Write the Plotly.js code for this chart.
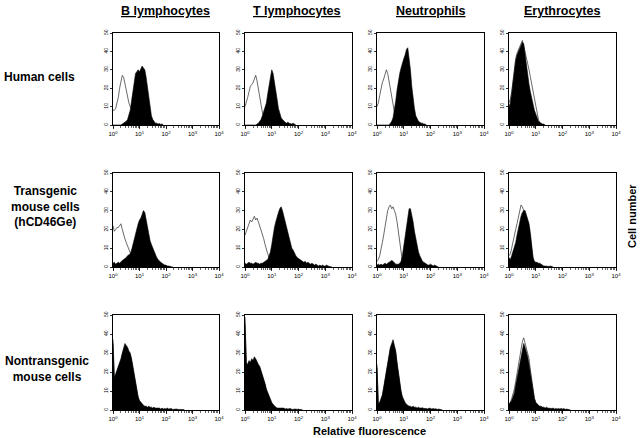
<!DOCTYPE html>
<html>
<head>
<meta charset="utf-8">
<script src="https://cdn.plot.ly/plotly-3.0.1.min.js"></script>
<style>html,body{margin:0;padding:0;background:#fff;}#chart{width:640px;height:438px;}</style>
</head>
<body>
<div id="chart"></div>
<script>
// Channel positions (log10 of relative fluorescence), 0.05-decade bins
const logChannels = [0,0.05,0.1,0.15,0.2,0.25,0.3,0.35,0.4,0.45,0.5,0.55,0.6,0.65,0.7,0.75,0.8,0.85,0.9,0.95,
  1,1.05,1.1,1.15,1.2,1.25,1.3,1.35,1.4,1.45,1.5,1.55,1.6,1.65,1.7,1.75,1.8,1.85,1.9,1.95,
  2,2.05,2.1,2.15,2.2,2.25,2.3,2.35,2.4,2.45,2.5,2.55,2.6,2.65,2.7,2.75,2.8,2.85,2.9,2.95,
  3,3.05,3.1,3.15,3.2,3.25,3.3,3.35,3.4,3.45,3.5,3.55,3.6,3.65,3.7,3.75,3.8,3.85,3.9,3.95,4];

const columnTitles = ['B lymphocytes','T lymphocytes','Neutrophils','Erythrocytes'];
const rowTitles = ['Human cells','Transgenic<br>mouse cells<br>(hCD46Ge)','Nontransgenic<br>mouse cells'];
const xTickVals = [1,10,100,1000,10000];
const xTickText = ['10<sup>0</sup>','10<sup>1</sup>','10<sup>2</sup>','10<sup>3</sup>','10<sup>4</sup>'];
const yTickVals = [0,10,20,30,40,50];

// Row 1: human cells (filled = anti-CD46 stain, line = control)
const bHumanTest = [0,0,0,0,0,0,0,0.5,1,1.5,2,3,5,8,13,19,25,28,29,30,29,31,32,31,30,26,20,14,9,5,3,2,1,1,0.5,0.8,0.3,0.6,0];
const bHumanCtrl = [8,8,9,12,15,20,24,27,26,22,19,15,12,10,9,6,4,2,1,0.5,0];
const tHumanTest = [0,0,0,0,0,0,0,0,0,0.5,1,2,3,5,7,9,12,17,22,26,30,28,24,19,14,9,6,4,3,2,1.5,1,1.5,1,0.8,0.5,1,0.5,0];
const tHumanCtrl = [10,12,15,18,21,22,23,25,27,24,19,15,11,7,4,2,1,0];
const nHumanTest = [0,0,0,0,0,0,0,0,0,0,1,2,4,8,13,19,24,28,31,34,36,38,41,42,37,30,21,14,9,5,3,2,1.5,1,1,0.5,0.5,0];
const nHumanCtrl = [10,12,16,20,23,25,28,30,28,24,19,14,10,6,3,1.5,0.5,0];
const eHumanTest = [10,12,17,24,30,35,38,40,41,43,45,44,38,33,28,22,18,14,11,8,6,4,2,1.5,1,0.5,0.5,0];
const eHumanCtrl = [12,14,18,25,31,36,39,41,42,44,46,43,40,37,33,30,26,22,18,14,10,6,3,1,0.5,0];

// Row 2: transgenic mouse cells (hCD46Ge)
const bTgTest = [2,2.5,1.5,2,2.5,2,3,3.5,4,4.5,5,6,6.5,7,9,12,15,18,20,23,25,26,28,30,29,25,21,17,14,12,10,8,6,5,4,3,2.5,2,1.5,1,1,0.5,0.5,0.3,0.5,0];
const bTgCtrl = [22,19,20,21,21,22,23,20,17,15,13,11,9,7,5,4,3,2,1,0.5,0];
const tTgTest = [2,1.5,2,2.5,2,2,1.5,2,2.5,2,2,1.5,2,2,2.5,3,3.5,4,6,8,12,17,21,24,27,29,31,32,30,27,24,21,18,15,12,10,9,7,6,5,4.5,4,3.5,3,2.5,3,2,2.5,2,1.5,2,1.5,1,1.5,1,0.5,1,0.5,1,0.5,0.5,1,0.5,0.3,0.5,0];
const tTgCtrl = [17,19,21,23,25,24,26,27,25,26,24,22,20,18,15,12,9,7,5,3,2,1,0];
const nTgTest = [1,1.5,1,1.5,1,1.5,2,1.5,2,2.5,3,3.5,3,2,1.5,1.5,1.5,2,3,6,11,17,23,28,31,31,28,24,19,15,11,8,6,4,3,2.5,2,1.5,1,1,1.5,1,0.5,1,0.5,0.3,0];
const nTgCtrl = [3,4,6,9,13,17,22,26,30,32,33,31,32,30,28,24,19,13,7,3,1,0];
const eTgTest = [5,4,6,8,10,13,17,21,25,27,29,30,30,28,26,23,18,10,5,3,2.5,2.5,2,2,1.5,1,0.5,0.5,0.3,0.5,0.3,0.5,0.3,0];
const eTgCtrl = [6,7,10,14,17,20,23,26,29,33,32,30,29,27,24,20,15,9,4,2,1,0.5,0];

// Row 3: nontransgenic mouse cells
const bNtTest = [37,17,19,21,22,24,27,30,32,35,34,33,31,30,27,23,19,14,10,7,5,4,3,2.5,2,2,1.5,2,1.5,1.5,1,1.5,1,1,0.8,1,0.5,1,0.5,0.8,0.5,1,0.5,0.5,0.8,0.3,0.5,0.3,0.5,0.3,0.5,0.3,0.2,0.3,0];
const bNtCtrl = [35,16,18,20,22,23,26,29,31,33,33,32,30,29,26,22,18,13,9,6,4,3,2.5,2,1.5,1.5,1,1,0.8,0.5,0.5,0.3,0];
const tNtTest = [49,25,24,26,25,27,26,28,27,25,24,23,21,19,16,14,11,9,7,5,4,3,2,1.5,1,1,0.8,1,0.8,1,0.5,0.8,0.5,0.5,0.8,0.3,0.5,0.3,0.5,0.3,0.5,0.2,0.3,0];
const tNtCtrl = [45,24,23,25,24,26,25,27,26,24,23,22,20,18,15,13,10,8,6,4,3,2,1.5,1,0.5,0.3,0];
const nNtTest = [24,3,4,6,8,12,16,21,26,30,33,35,37,34,31,25,19,14,10,7,5,4,3,2.5,2,2,1.5,2,1.5,1.5,1,1.5,1,1,1.2,0.8,1,0.8,0.5,1,0.8,0.5,0.8,0.5,0.7,0.3,0.5,0.2,0.3,0];
const nNtCtrl = [22,3,4,5,7,11,15,20,25,29,32,34,35,33,30,24,18,13,9,6,4,3,2,1.5,1,0.5,0.3,0];
const eNtTest = [3,4,5,7,9,13,17,21,25,28,31,35,33,31,28,24,19,14,9,6,4,3,2.5,2,2,1.5,1.5,1,1.5,1,0.8,1,0.8,1,0.5,0.8,0.5,0.8,0.5,0.8,0.5,0.8,0.3,0.5,0.3,0.5,0];
const eNtCtrl = [3,4,6,8,11,15,19,24,29,33,36,38,35,33,30,27,21,15,10,6,4,3,2,1.5,1,0.8,0.5,0.3,0];

const panels = [
  [bHumanTest,bHumanCtrl],[tHumanTest,tHumanCtrl],[nHumanTest,nHumanCtrl],[eHumanTest,eHumanCtrl],
  [bTgTest,bTgCtrl],[tTgTest,tTgCtrl],[nTgTest,nTgCtrl],[eTgTest,eTgCtrl],
  [bNtTest,bNtCtrl],[tNtTest,tNtCtrl],[nNtTest,nNtCtrl],[eNtTest,eNtCtrl]
];

// ---- layout geometry (pixels) ----
const W = 640, H = 438;
const colPx = [[113,219],[245,352],[377,484],[509,616]];
const rowPx = [[33,125],[173,267],[315,410]];
const fx = p => p / W;
const fy = p => 1 - p / H;
const FONT = 'Liberation Sans, Arial, sans-serif';

const traces = [];
const layout = {
  width: W, height: H,
  margin: {l:0, r:0, t:0, b:0},
  paper_bgcolor: '#fff', plot_bgcolor: '#fff',
  showlegend: false,
  font: {family: FONT, color: '#000'},
  annotations: [],
  shapes: []
};

panels.forEach((pair, k) => {
  const r = Math.floor(k / 4), c = k % 4;
  const sfx = k === 0 ? '' : String(k + 1);
  const xa = 'x' + sfx, ya = 'y' + sfx;
  const xs = arr => arr.map((v, i) => Math.pow(10, logChannels[i]));
  traces.push({
    type: 'scatter', mode: 'lines', xaxis: xa, yaxis: ya,
    x: xs(pair[1]), y: pair[1],
    line: {color: '#444', width: 0.8}, hoverinfo: 'skip'
  });
  traces.push({
    type: 'scatter', mode: 'lines', xaxis: xa, yaxis: ya,
    x: xs(pair[0]), y: pair[0],
    fill: 'tozeroy', fillcolor: '#000',
    line: {color: '#000', width: 0.6}, hoverinfo: 'skip'
  });
  layout['xaxis' + sfx] = {
    domain: [fx(colPx[c][0]), fx(colPx[c][1])], anchor: ya,
    type: 'log', range: [0, 4], autorange: false,
    showgrid: false, zeroline: false,
    showline: true, mirror: true, linecolor: '#000', linewidth: 1,
    tickmode: 'array', tickvals: xTickVals, ticktext: xTickText,
    ticks: 'outside', ticklen: 3, tickwidth: 0.8, tickcolor: '#000',
    minor: {ticks: 'outside', ticklen: 2, tickwidth: 0.6, tickcolor: '#000', dtick: 'D1'},
    tickfont: {size: 6, family: FONT, color: '#000'}
  };
  layout['yaxis' + sfx] = {
    domain: [fy(rowPx[r][1]), fy(rowPx[r][0])], anchor: xa,
    range: [0, 50], autorange: false,
    showgrid: false, zeroline: false,
    showline: true, mirror: true, linecolor: '#000', linewidth: 1,
    tickmode: 'array', tickvals: yTickVals,
    ticks: 'outside', ticklen: 2, tickwidth: 0.8, tickcolor: '#000',
    tickangle: -90,
    tickfont: {size: 5, family: FONT, color: '#000'}
  };
});

const colCenters = [165, 297, 430, 562];
columnTitles.forEach((t, i) => {
  layout.annotations.push({
    xref: 'paper', yref: 'paper', x: fx(colCenters[i]), y: fy(11),
    xanchor: 'center', yanchor: 'middle', showarrow: false,
    text: '<b><span style="text-decoration:underline">' + t + '</span></b>',
    font: {size: 12.5, family: FONT, color: '#000'}
  });
});

const rowLabelPos = [[39, 77], [45, 206], [47, 369]];
rowTitles.forEach((t, i) => {
  layout.annotations.push({
    xref: 'paper', yref: 'paper', x: fx(rowLabelPos[i][0]), y: fy(rowLabelPos[i][1]),
    xanchor: 'center', yanchor: 'middle', align: 'center', showarrow: false,
    text: '<b>' + t + '</b>',
    font: {size: 12, family: FONT, color: '#000'}
  });
});

layout.annotations.push({
  xref: 'paper', yref: 'paper', x: fx(632), y: fy(216),
  xanchor: 'center', yanchor: 'middle', showarrow: false, textangle: -90,
  text: '<b>Cell number</b>', font: {size: 11, family: FONT, color: '#000'}
});
layout.annotations.push({
  xref: 'paper', yref: 'paper', x: fx(369), y: fy(431),
  xanchor: 'center', yanchor: 'middle', showarrow: false,
  text: '<b>Relative fluorescence</b>', font: {size: 11, family: FONT, color: '#000'}
});

Plotly.newPlot('chart', traces, layout, {staticPlot: true, displayModeBar: false});
</script>
</body>
</html>
